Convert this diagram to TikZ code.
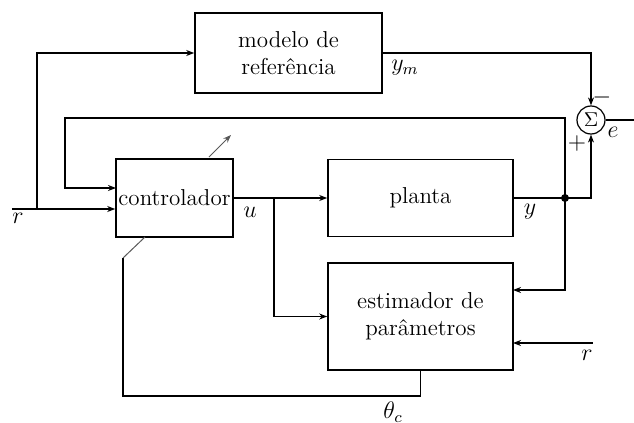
\documentclass[tikz,border=0pt]{standalone}
\usetikzlibrary{arrows.meta}
\begin{document}
\begin{tikzpicture}[x=0.5pt,y=-0.5pt,
  line width=0.8pt,
  box/.style={draw,rectangle,inner sep=0pt,align=center,font=\fontsize{11.5}{13.5}\selectfont},
  sumnode/.style={draw,circle,minimum size=14pt,inner sep=0pt,line width=0.6pt},
  arr/.style={-{Stealth[length=4pt,width=3pt]}},
  lbl/.style={font=\fontsize{11.5}{13.5}\selectfont,inner sep=0pt},
  thin/.style={line width=0.5pt,gray!70!black}]
\useasboundingbox (0,0) rectangle (634,423);
% blocks
\node[box,minimum width=93.5pt,minimum height=40pt] (mod) at (288.5,53) {modelo de\\referência};
\node[box,minimum width=58.5pt,minimum height=39pt] (ctrl) at (174.5,198) {controlador};
\node[box,minimum width=92.5pt,minimum height=38.5pt] (plant) at (420.5,198) {planta};
\node[box,minimum width=92.5pt,minimum height=53.5pt] (est) at (420.5,316.5) {estimador de\\parâmetros};
\node[sumnode] (sum) at (591,120) {$\Sigma$};
% coordinates
\coordinate (rin) at (12,209);
\coordinate (rbr) at (37,209);
\coordinate (dot) at (565,198);
\coordinate (fbtop) at (65,118);
\coordinate (ctrlin2) at (116,188);
\coordinate (ubr) at (274,198);
\coordinate (estin1) at (513,290);
\coordinate (r2) at (593,343);
\coordinate (estin2) at (513,343);
\coordinate (eout) at (634,120);
\coordinate (thb) at (421,396);
\coordinate (thl) at (123,396);
\coordinate (thu) at (123,258);
\coordinate (thc) at (145,237);
\coordinate (da1) at (209,157);
\coordinate (da2) at (231,135);
% connectors
\draw[arr] (rin) -- (rin -| ctrl.west);
\draw[arr] (rbr) |- (mod.west);
\draw[arr] (ctrl.east) -- (plant.west);
\draw (plant.east) -- (dot);
\draw[arr] (dot) -| (sum.south);
\draw[arr] (dot) |- (fbtop) |- (ctrlin2);
\draw[arr] (mod.east) -| (sum.north);
\draw (sum.east) -- (eout);
\draw[arr] (ubr) |- (est.west);
\draw[arr] (dot) |- (estin1);
\draw[arr] (r2) -- (estin2);
\draw (est.south) |- (thl) -- (thu);
\draw[thin] (thu) -- (thc);
\draw[thin,arr] (da1) -- (da2);
\fill (dot) circle (2pt);
% labels
\node[lbl] (lr1) at (18,218) {$r$};
\node[lbl] (lym) at (405,68) {$y_m$};
\node[lbl] (lu) at (250,212) {$u$};
\node[lbl] (ly) at (530,212) {$y$};
\node[lbl] (le) at (613,132) {$e$};
\node[lbl] (lminus) at (602,98) {$-$};
\node[lbl] (lplus) at (577,143) {$+$};
\node[lbl] (lr2) at (587,355) {$r$};
\node[lbl] (lth) at (393,412) {$\theta_c$};
\end{tikzpicture}
\end{document}
